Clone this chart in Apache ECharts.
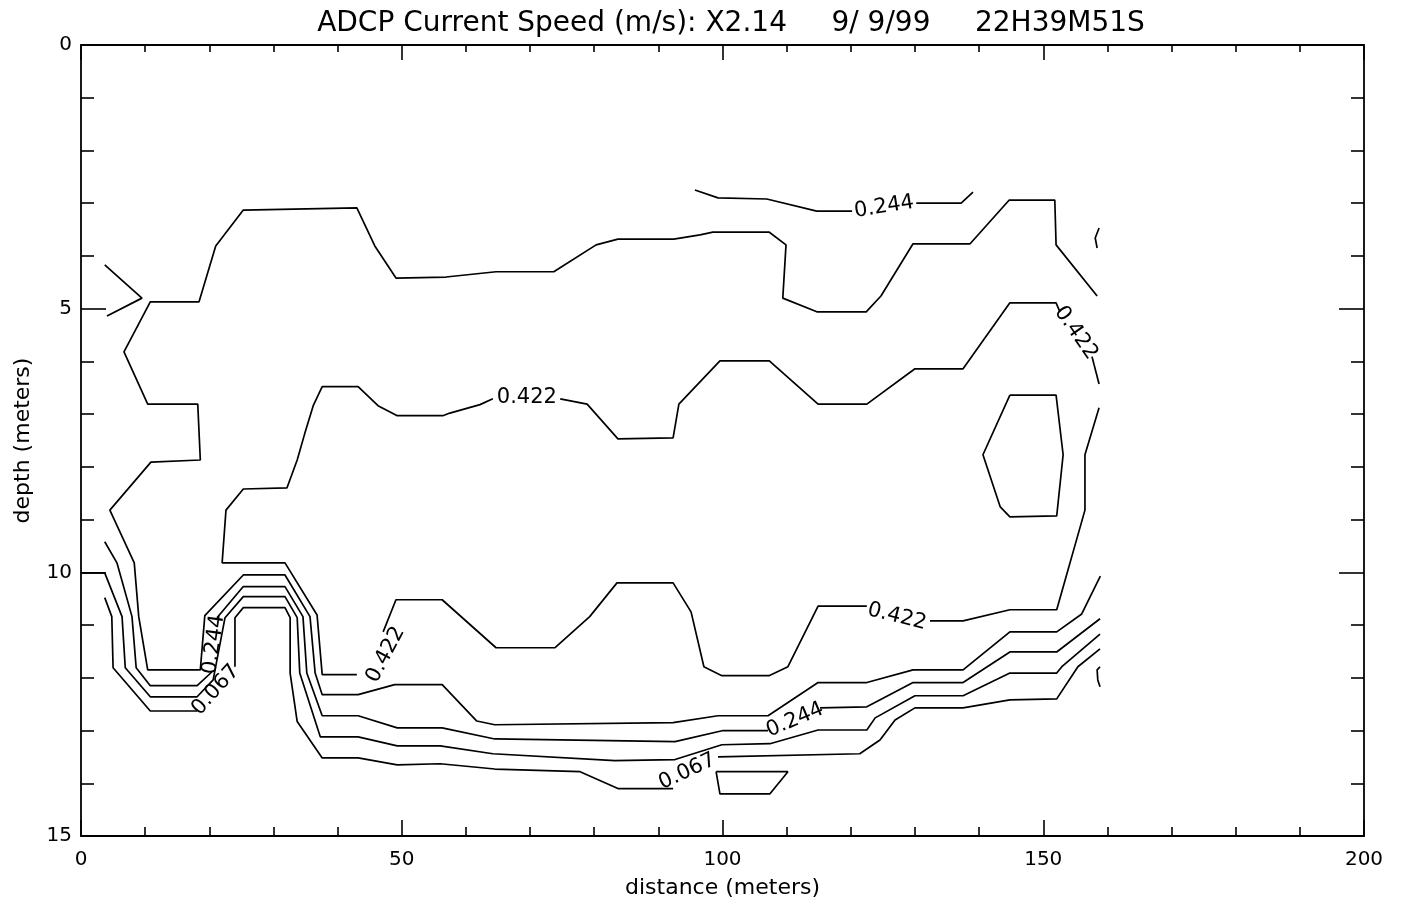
<!DOCTYPE html>
<html>
<head>
<meta charset="utf-8">
<script src="https://cdn.jsdelivr.net/npm/echarts/dist/echarts.min.js"></script>
<style>
html,body{margin:0;padding:0;background:#fff;}
#chart{width:1401px;height:908px;}
</style>
</head>
<body>
<div id="chart"></div>
<script>
// ---- axis ticks ----
const xTicks = [0, 50, 100, 150, 200];
const yTicks = [0, 5, 10, 15];

// ---- contour polylines: [distance (m), depth (m)] ----
const lvl0333 = [[158.4,4.76],[152.0,3.79],[151.8,2.94],[144.7,2.94],[138.6,3.77],[129.7,3.77],[124.7,4.76],[122.4,5.06],[114.7,5.06],[109.4,4.80],[109.9,3.79],[107.3,3.55],[98.5,3.55],[96.5,3.60],[92.4,3.68],[83.7,3.68],[80.3,3.79],[73.7,4.30],[64.7,4.30],[56.9,4.40],[49.1,4.42],[45.8,3.81],[43.0,3.09],[25.3,3.13],[21.0,3.81],[18.4,4.87],[10.8,4.87],[6.7,5.82],[10.4,6.81],[18.2,6.81],[18.6,7.87],[10.9,7.91],[4.5,8.82],[8.3,9.82],[9.0,10.84],[10.4,11.85],[18.6,11.85],[19.3,10.82],[25.3,10.05],[31.8,10.05],[35.7,10.84],[36.5,11.91],[37.6,12.32],[43.2,12.32],[48.9,12.13],[56.3,12.13],[61.7,12.82],[64.5,12.89],[92.3,12.85],[99.3,12.72],[107.1,12.72],[114.9,12.09],[122.5,12.09],[129.7,11.85],[137.5,11.85],[144.8,11.13],[152.1,11.13],[156.0,10.79],[158.9,10.07]];

const lvl0422a = [[158.7,6.43],[157.6,5.91]];
const lvl0422b = [[152.6,5.06],[152.0,4.89],[144.8,4.89],[137.5,6.14],[130.0,6.14],[122.5,6.81],[114.9,6.81],[107.3,5.99],[99.6,5.99],[93.2,6.81],[92.3,7.45],[83.7,7.47],[78.9,6.81],[74.7,6.71]];
const lvl0422c = [[64.2,6.71],[62.2,6.82],[57.5,6.98],[56.4,7.03],[49.3,7.03],[46.3,6.84],[43.2,6.48],[37.6,6.48],[36.2,6.84],[34.9,7.36],[33.7,7.87],[32.1,8.40],[25.3,8.42],[22.6,8.82],[22.0,9.82],[31.8,9.82],[36.8,10.81],[37.6,11.94],[43.0,11.94]];
const lvl0422d = [[47.1,11.13],[49.1,10.52],[56.3,10.52],[64.7,11.43],[73.9,11.43],[79.3,10.84],[83.55,10.2],[92.3,10.2],[95.1,10.75],[97.1,11.79],[99.9,11.96],[107.25,11.96],[110.2,11.79],[114.9,10.64],[122.5,10.64]];
const lvl0422e = [[132.35,10.92],[137.5,10.92],[144.8,10.71],[152.1,10.71],[156.5,8.82],[156.5,7.77],[158.7,6.88]];

const lvl0244topA = [[95.7,2.75],[99.3,2.90],[106.9,2.92],[114.7,3.15],[120.2,3.15]];
const lvl0244topB = [[130.2,3.0],[137.2,3.0],[139.05,2.79]];
const lvl0244left = [[3.7,4.17],[9.5,4.80],[4.05,5.14]];
const lvl0244lowA = [[3.7,9.42],[5.6,9.82],[7.95,10.84],[8.6,11.81],[10.8,12.15],[18.1,12.15],[20.4,11.89]];
const lvl0244lowB = [[21.2,10.86],[25.3,10.27],[31.8,10.27],[34.6,10.84],[35.2,11.91],[37.6,12.72],[43.2,12.72],[49.3,12.95],[56.3,12.95],[64.5,13.16],[92.6,13.21],[100.1,13.0],[107.1,13.0]];
const lvl0244lowC = [[115.2,12.57],[122.5,12.55],[129.7,12.09],[137.5,12.09],[144.8,11.51],[152.1,11.51],[158.85,10.88]];

const lvl0156 = [[0,10.01],[3.7,10.01],[6.4,10.84],[6.9,11.81],[10.8,12.36],[18.1,12.36],[20.6,12.04],[22.45,10.86],[25.3,10.46],[31.8,10.46],[33.7,10.86],[34.1,11.91],[37.3,13.12],[43.2,13.12],[49.3,13.29],[56.0,13.29],[64.2,13.44],[83.2,13.57],[92.6,13.55],[99.9,13.27],[107.4,13.25],[114.9,12.99],[122.5,12.99],[123.8,12.76],[130.0,12.34],[137.5,12.34],[144.8,11.91],[152.1,11.91],[152.9,11.79],[158.85,11.17]];

const lvl0067a = [[3.7,10.48],[4.8,10.84],[5.0,11.81],[10.8,12.63],[18.1,12.63]];
const lvl0067b = [[24.0,11.79],[24.0,10.86],[25.3,10.67],[31.8,10.67],[32.6,10.86],[32.6,11.91],[33.7,12.83],[37.6,13.52],[43.2,13.52],[49.3,13.65],[56.0,13.63],[64.5,13.73],[77.8,13.78],[83.7,14.1],[92.3,14.1]];
const lvl0067c = [[99.3,13.5],[121.4,13.44],[124.55,13.18],[126.9,12.8],[130.0,12.57],[137.5,12.57],[144.8,12.42],[152.1,12.4],[155.4,11.79],[158.85,11.45]];
const lvl0067loop = [[99.0,13.78],[110.2,13.78],[107.4,14.2],[99.6,14.2],[99.0,13.78]];

const innerLoop = [[144.8,6.64],[152.0,6.64],[153.1,7.77],[152.1,8.93],[144.8,8.95],[143.3,8.76],[140.6,7.77],[144.8,6.64]];
const edgeBitTop = [[158.7,3.47],[158.1,3.66],[158.4,3.85]];
const edgeBitBottom = [[158.85,11.79],[158.4,11.85],[158.5,12.04],[158.85,12.17]];

// ---- contour labels: text, distance, depth ----
const labelTexts = ['0.244','0.422','0.422','0.422','0.244','0.067','0.067','0.244','0.422'];
const labelX     = [125.2, 69.5, 155.1, 47.5, 20.7, 21.0, 94.5, 111.3, 127.2];
const labelY     = [3.07, 6.69, 5.46, 11.56, 11.37, 12.23, 13.78, 12.80, 10.84];
const labelAngle = [9, 0, -55, 62, 82, 48, 25, 23, -14];

const allLines = [lvl0333, lvl0422a, lvl0422b, lvl0422c, lvl0422d, lvl0422e,
  lvl0244topA, lvl0244topB, lvl0244left, lvl0244lowA, lvl0244lowB, lvl0244lowC,
  lvl0156, lvl0067a, lvl0067b, lvl0067c, lvl0067loop, innerLoop, edgeBitTop, edgeBitBottom];

const FONT = 'DejaVu Sans';
const INK = '#000';

const series = allLines.map(pts => ({
  type: 'line',
  data: pts,
  xAxisIndex: 0, yAxisIndex: 0,
  symbol: 'none', showSymbol: false,
  lineStyle: { color: INK, width: 1.7 },
  silent: true, animation: false, z: 3
}));

series.push({
  type: 'scatter',
  xAxisIndex: 0, yAxisIndex: 0,
  symbolSize: 0,
  itemStyle: { color: INK, opacity: 1 },
  silent: true, animation: false,
  data: labelTexts.map((t, i) => ({
    value: [labelX[i], labelY[i]],
    label: { show: true, formatter: t, rotate: labelAngle[i], position: 'inside',
      color: INK, opacity: 1, fontSize: 21, fontFamily: FONT, align: 'center', verticalAlign: 'middle',
      textBorderWidth: 0, textBorderColor: 'transparent' }
  })),
  z: 4
});

function xAx(pos, major, minor, showLabel) {
  return {
    type: 'value', position: pos, min: 0, max: 200, interval: 50,
    axisLine: { show: true, onZero: false, lineStyle: { color: INK, width: 1.8 } },
    axisTick: { show: true, inside: true, length: major, lineStyle: { color: INK, width: 1.6 } },
    minorTick: { show: true, splitNumber: 5, length: minor, lineStyle: { color: INK, width: 1.6 } },
    splitLine: { show: false }, minorSplitLine: { show: false },
    axisLabel: { show: showLabel, color: INK, fontSize: 20, fontFamily: FONT, margin: 14,
      formatter: v => xTicks.includes(v) ? String(v) : '' },
    name: showLabel ? 'distance (meters)' : '',
    nameLocation: 'middle', nameGap: 41,
    nameTextStyle: { color: INK, fontSize: 22, fontFamily: FONT }
  };
}
function yAx(pos, showLabel) {
  return {
    type: 'value', position: pos, inverse: true, min: 0, max: 15, interval: 5,
    axisLine: { show: true, onZero: false, lineStyle: { color: INK, width: 1.8 } },
    axisTick: { show: true, inside: true, length: 25, lineStyle: { color: INK, width: 1.6 } },
    minorTick: { show: true, splitNumber: 5, length: 13, lineStyle: { color: INK, width: 1.6 } },
    splitLine: { show: false }, minorSplitLine: { show: false },
    axisLabel: { show: showLabel, color: INK, fontSize: 20, fontFamily: FONT, margin: 9,
      formatter: v => yTicks.includes(v) ? String(v) : '' },
    name: showLabel ? 'depth (meters)' : '',
    nameLocation: 'middle', nameGap: 47, nameRotate: 90,
    nameTextStyle: { color: INK, fontSize: 22, fontFamily: FONT }
  };
}

const chart = echarts.init(document.getElementById('chart'), null, { renderer: 'canvas' });
chart.setOption({
  backgroundColor: '#fff',
  animation: false,
  title: {
    text: 'ADCP Current Speed (m/s): X2.14     9/ 9/99     22H39M51S',
    left: 726, top: 5, textAlign: 'center',
    textStyle: { color: INK, fontSize: 28, fontWeight: 'normal', fontFamily: FONT }
  },
  grid: { left: 81, right: 37, top: 45, bottom: 72, containLabel: false },
  xAxis: [xAx('bottom', 16, 9, true), xAx('top', 15, 7, false)],
  yAxis: [yAx('left', true), yAx('right', false)],
  series: series
});
</script>
</body>
</html>
